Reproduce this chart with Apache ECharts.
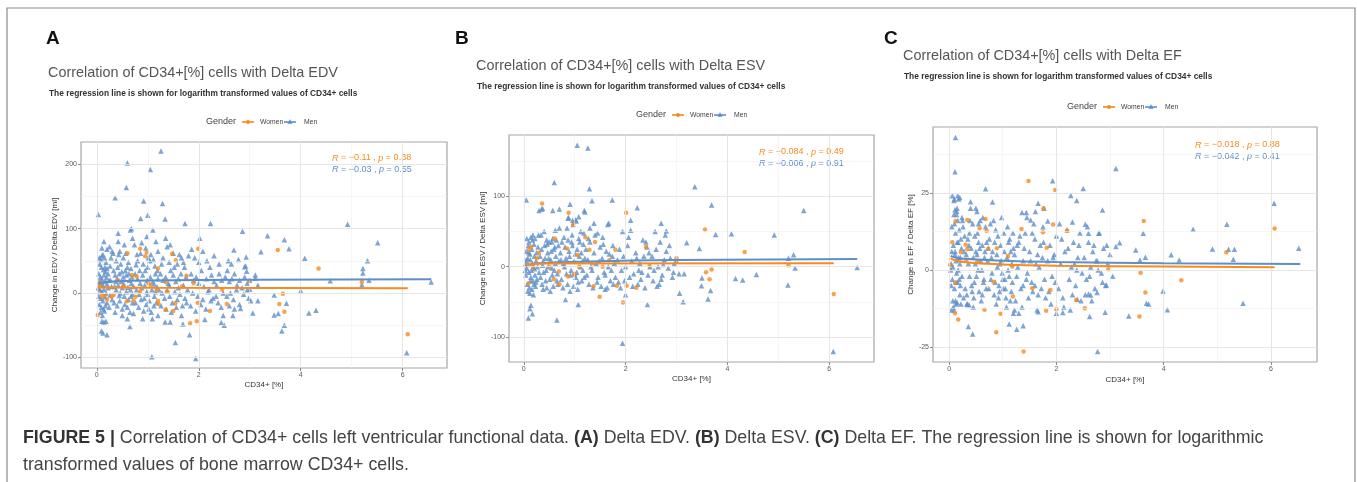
<!DOCTYPE html>
<html><head><meta charset="utf-8">
<script src="https://cdn.jsdelivr.net/npm/echarts@6/dist/echarts.min.js"></script>
<style>html,body{margin:0;padding:0;background:#fff}#c{width:1357px;height:482px}</style>
</head><body><div id="c"></div>
<script>
// ---------- tick labels ----------
const xTicks = [0, 2, 4, 6];
const xMinor = [1, 3, 5];
const yTicksEDV = [-100, 0, 100, 200];
const yMinorEDV = [-50, 50, 150];
const yTicksESV = [-100, 0, 100];
const yMinorESV = [-50, 50, 150];
const yTicksEF = [-25, 0, 25];
const yMinorEF = [-12.5, 12.5, 37.5];

const panelLetters = ['A', 'B', 'C'];
const panelTitles = ['Correlation of CD34+[%] cells with Delta EDV', 'Correlation of CD34+[%] cells with Delta ESV', 'Correlation of CD34+[%] cells with Delta EF'];
const subTitle = 'The regression line is shown for logarithm transformed values of CD34+ cells';
const yNames = ['Change in EDV / Delta EDV [ml]', 'Change in ESV / Delta ESV [ml]', 'Change in EF / Delta EF [%]'];
const xName = 'CD34+ [%]';
const groups = ['Women', 'Men'];
const statsWomen = [['\u22120.11', '0.38'], ['\u22120.084', '0.49'], ['\u22120.018', '0.88']];
const statsMen = [['\u22120.03', '0.55'], ['\u22120.006', '0.91'], ['\u22120.042', '0.41']];

// ---------- Panel A: Delta EDV ----------
const edvMen = [
[1.26,221],[0.6,202],[1.05,192],[0.58,164],[0.36,148],[0.92,143],[1.29,139],[0.03,122],[1.0,121],[0.86,116],[1.34,115],[1.73,108],[2.23,108],[4.92,107],[0.68,100],[1.1,98],[2.86,96],[0.42,93],[3.35,89],[3.68,83],[5.51,78],[3.77,69],[4.08,54],[5.31,50],[5.22,38],[5.22,31],[5.34,20],[6.56,17],[5.2,13],[4.58,19],[4.0,3],[4.16,-31],[4.3,-27],[3.48,-3],[3.48,-34],[3.56,-32],[3.72,-16],[3.68,-50],[3.63,-59],[6.08,-93],[1.94,-102],[1.08,-99],[1.54,-77],[1.82,-65],[0.65,-52],[0.2,-65],[0.09,-59],[0.12,-62],[1.34,-45],[1.44,-45],[1.69,-48],[2.12,-41],[2.44,-46],[2.5,-50],[2.67,-35],[2.48,-35],[3.06,-31],[3.02,-12],[3.16,-12],[2.82,-24],[3.22,64],[2.69,67],[2.94,34],[2.9,41],[2.93,56],[3.11,28],[3.11,23],[3.16,12],[3.0,6],
[0.05,55],[0.08,52],[0.1,58],[0.12,60],[0.15,55],[0.18,48],[0.06,45],[0.09,40],[0.13,36],[0.17,33],[0.2,38],[0.04,30],[0.07,25],[0.1,22],[0.14,28],[0.19,24],[0.22,30],[0.05,18],[0.08,15],[0.12,12],[0.16,18],[0.2,14],[0.24,20],[0.03,8],[0.06,5],[0.1,2],[0.14,6],[0.18,0],[0.22,8],[0.04,-5],[0.08,-8],[0.12,-12],[0.16,-6],[0.2,-15],[0.05,-18],[0.09,-22],[0.13,-25],[0.17,-20],[0.07,-30],[0.11,-35],[0.15,-28],[0.1,-44],[0.14,-45],[0.18,-44],[0.14,80],[0.1,70],[0.2,68],[0.25,72],[0.3,65],[0.16,40],[0.26,42],[0.28,55],[0.27,20],[0.29,10],[0.3,-10],[0.26,-3],[0.24,-22],
[0.33,35],[0.36,28],[0.4,22],[0.44,30],[0.48,18],[0.52,25],[0.56,35],[0.6,40],[0.64,20],[0.68,15],[0.35,10],[0.38,5],[0.42,12],[0.46,0],[0.5,8],[0.54,-5],[0.58,2],[0.62,-10],[0.66,5],[0.7,-2],[0.34,-15],[0.4,-20],[0.45,-12],[0.5,-25],[0.55,-18],[0.6,-22],[0.65,-30],[0.7,-15],[0.38,50],[0.43,60],[0.47,45],[0.52,55],[0.57,62],[0.62,48],[0.67,38],[0.36,-30],[0.5,-35],[0.72,-32],[0.42,80],[0.54,75],[0.7,85],[0.66,98],[0.45,65],[0.32,62],[0.58,28],[0.41,40],[0.49,33],[0.63,30],[0.69,25],[0.37,18],[0.53,14],[0.61,9],[0.67,-5],[0.44,-4],[0.6,-40],
[0.75,30],[0.8,22],[0.85,15],[0.9,28],[0.95,35],[1.0,40],[1.05,25],[1.1,18],[1.15,30],[1.2,22],[0.72,10],[0.78,5],[0.83,-2],[0.88,8],[0.93,-8],[0.98,2],[1.03,-12],[1.08,5],[1.13,-5],[1.18,10],[0.76,-15],[0.82,-22],[0.87,-10],[0.92,-28],[0.97,-18],[1.02,-25],[1.07,-30],[1.12,-20],[1.17,-15],[0.8,50],[0.86,62],[0.91,45],[0.96,70],[1.01,55],[1.06,60],[1.11,52],[1.16,80],[1.2,65],[0.88,78],[0.98,88],[1.04,50],[1.14,42],[0.74,75],[0.79,60],[1.19,35],[0.84,35],[0.94,12],[1.09,-40],[1.0,-2],[1.15,2],[0.9,-40],[1.2,-35],[0.77,44],[1.12,14],[0.99,20],
[1.25,30],[1.3,20],[1.35,25],[1.4,15],[1.45,35],[1.5,28],[1.55,18],[1.6,22],[1.65,30],[1.7,12],[1.75,25],[1.22,5],[1.28,0],[1.33,-8],[1.38,5],[1.43,-5],[1.48,-15],[1.53,2],[1.58,-10],[1.63,-2],[1.68,-20],[1.73,-8],[1.78,5],[1.26,-20],[1.36,-25],[1.46,-30],[1.56,-22],[1.66,-35],[1.76,-15],[1.3,55],[1.38,72],[1.42,48],[1.5,62],[1.58,45],[1.66,55],[1.72,40],[1.35,85],[1.44,75],[1.62,60],[1.27,45],[1.52,40],[1.8,58],[1.7,48],[1.6,8],[1.42,12],
[1.85,30],[1.9,20],[1.95,25],[2.0,15],[2.05,35],[2.1,10],[2.15,22],[2.2,5],[2.25,28],[2.3,18],[2.35,12],[2.4,30],[2.45,20],[1.88,0],[1.98,-5],[2.08,-10],[2.18,2],[2.28,-8],[2.38,-15],[2.48,0],[1.84,-20],[1.94,-28],[2.04,-18],[2.14,-25],[2.24,-12],[2.34,-5],[2.44,-22],[1.92,55],[2.0,48],[2.08,65],[2.16,50],[2.3,58],[2.4,45],[2.22,40],[2.02,85],[1.86,68],
[2.52,25],[2.56,35],[2.6,18],[2.65,22],[2.7,30],[2.75,12],[2.8,20],[2.85,8],[2.9,25],[2.95,15],[3.0,20],[2.55,-5],[2.62,0],[2.68,-10],[2.74,5],[2.8,-18],[2.88,-2],[2.95,5],[2.58,50],[2.64,45],[2.78,52],[2.92,42],[2.7,-25],[2.6,-20],[2.98,-8]
];
const edvWomen = [
[0.6,62],[0.85,69],[0.98,63],[0.95,57],[1.99,69],[1.55,51],[1.48,61],[3.55,67],[4.35,38],[0.78,26],[0.69,28],[1.76,27],[1.2,38],[0.05,10],[0.02,-34],[0.1,-5],[0.2,-10],[0.29,-6],[0.33,-3],[0.42,20],[0.52,10],[1.01,15],[1.05,12],[1.35,17],[1.38,2],[1.2,-12],[1.21,-17],[1.35,-26],[1.5,-28],[1.54,-16],[1.83,-47],[1.96,-44],[1.98,-15],[2.22,-28],[2.55,-17],[2.46,5],[2.99,19],[3.58,-17],[3.65,-1],[3.68,-29],[6.1,-64],[5.2,17],[1.9,15],[0.07,15],[0.16,-3],[0.59,-13],[0.72,-12],[0.76,-6],[0.85,2],[1.18,5],[1.67,10]
];
const edvMenFit = [[0.03,14],[0.1,16.5],[0.3,18],[1,19.5],[3,20.5],[6.56,21.5]];
const edvWomenFit = [[0.02,8.5],[1,8],[6.1,7.5]];

// ---------- Panel B: Delta ESV ----------
const esvMen = [
[1.05,173],[1.26,169],[0.6,120],[3.36,114],[1.29,111],[0.05,95],[1.34,94],[1.74,95],[0.91,89],[2.23,84],[3.69,88],[5.5,80],[0.3,80],[0.35,82],[0.37,83],[0.57,80],[0.7,82],[0.87,69],[0.96,66],[1.02,67],[1.08,71],[1.19,80],[1.2,78],[2.1,66],[2.7,62],[1.67,62],[2.8,51],[4.08,47],[3.77,46],[4.92,45],[3.45,26],[3.2,34],[5.3,17],[5.2,12],[6.55,-1],[5.33,-2],[4.16,-17],[4.3,-19],[4.57,-11],[5.19,-26],[3.5,-16],[3.49,-27],[3.67,-34],[3.62,-46],[3.06,-38],[3.13,-50],[2.43,-54],[1.07,-54],[0.82,-47],[0.65,-76],[0.09,-73],[0.14,-55],[0.12,-60],[0.17,-67],[1.94,-109],[6.08,-121],[3.15,-10],
[0.04,5],[0.06,-2],[0.08,12],[0.1,-8],[0.12,18],[0.14,-15],[0.16,25],[0.18,-20],[0.2,32],[0.22,-12],[0.05,22],[0.07,-25],[0.09,30],[0.11,-30],[0.13,10],[0.15,-5],[0.17,38],[0.19,0],[0.21,15],[0.23,-28],[0.06,40],[0.1,35],[0.14,42],[0.18,45],[0.24,8],[0.26,-18],[0.28,28],[0.3,-8],[0.04,-12],[0.08,-35],[0.12,-38],[0.16,-32],[0.2,-25],[0.25,20],[0.27,0],[0.29,45],[0.22,40],[0.19,-40],[0.03,-5],[0.05,10],[0.07,3],[0.1,20],[0.13,-20],[0.17,5],[0.21,-3],[0.24,-22],
[0.32,15],[0.35,25],[0.38,8],[0.41,30],[0.44,-5],[0.47,20],[0.5,35],[0.53,10],[0.56,-12],[0.59,25],[0.62,5],[0.65,-20],[0.68,30],[0.33,-15],[0.36,-25],[0.39,-8],[0.42,12],[0.45,-30],[0.48,0],[0.51,-18],[0.54,22],[0.57,40],[0.6,-5],[0.63,15],[0.66,-10],[0.69,8],[0.34,45],[0.4,50],[0.46,32],[0.52,-35],[0.58,-28],[0.64,38],[0.7,55],[0.37,2],[0.43,-20],[0.49,12],[0.55,-2],[0.61,28],[0.67,-25],[0.45,38],[0.62,52],[0.55,35],[0.38,-32],
[0.72,20],[0.75,35],[0.78,5],[0.81,28],[0.84,-10],[0.87,38],[0.9,15],[0.93,-5],[0.96,30],[0.99,8],[1.02,-15],[1.05,25],[1.08,40],[1.11,0],[1.14,-20],[1.17,32],[1.2,12],[0.74,-18],[0.77,-30],[0.8,0],[0.83,12],[0.86,-25],[0.89,22],[0.92,-12],[0.95,45],[0.98,-28],[1.01,18],[1.04,-8],[1.07,-22],[1.1,35],[1.13,20],[1.16,-5],[1.19,-15],[0.85,55],[0.88,70],[0.97,60],[1.03,65],[1.12,50],[1.18,48],[0.73,10],[0.91,-35],[1.06,-32],[0.79,42],[1.0,-10],[1.15,8],[0.94,35],[1.09,15],
[1.22,25],[1.26,10],[1.3,35],[1.34,-5],[1.38,20],[1.42,5],[1.46,-15],[1.5,28],[1.54,12],[1.58,-8],[1.62,22],[1.66,0],[1.7,-20],[1.74,15],[1.78,5],[1.24,-12],[1.28,-25],[1.32,0],[1.36,-30],[1.4,45],[1.44,-22],[1.48,8],[1.52,-28],[1.56,32],[1.6,-12],[1.64,-30],[1.68,18],[1.72,-5],[1.76,-25],[1.3,55],[1.38,62],[1.45,48],[1.55,42],[1.65,60],[1.75,30],[1.27,40],[1.6,-32],[1.8,-15],
[1.84,10],[1.88,25],[1.92,-5],[1.96,15],[2.0,0],[2.04,30],[2.08,-15],[2.12,8],[2.16,-10],[2.2,20],[2.24,-25],[2.28,5],[2.32,-8],[2.36,15],[2.4,35],[2.44,-12],[2.48,0],[1.86,-22],[1.9,-30],[1.98,-20],[2.06,42],[2.14,-28],[2.22,12],[2.3,-18],[2.38,-30],[2.46,20],[1.94,50],[2.1,52],[2.26,-5],[2.42,28],[2.0,-40],[2.34,38],
[2.52,15],[2.56,-5],[2.6,25],[2.64,0],[2.68,35],[2.72,-12],[2.76,10],[2.8,22],[2.84,-2],[2.88,12],[2.92,-15],[2.96,5],[3.0,8],[2.54,-20],[2.62,-28],[2.7,-18],[2.78,45],[2.86,30],[2.94,-8],[2.58,50],[2.66,-25],[2.74,3],[3.05,-10]
];
const esvWomen = [
[0.36,90],[0.88,77],[2.01,77],[0.97,60],[3.56,53],[0.61,40],[1.21,42],[1.4,35],[0.85,26],[4.34,21],[1.8,24],[2.4,28],[0.14,28],[0.1,24],[0.3,20],[0.26,12],[0.09,-24],[0.69,-7],[0.59,-18],[0.7,-25],[0.87,-14],[0.99,-11],[1.37,-28],[1.49,-43],[1.83,-27],[1.95,-51],[2.02,-27],[2.21,-30],[2.47,1],[3.0,12],[3.58,-8],[3.69,-4],[3.65,-18],[5.2,2],[6.09,-39],[1.34,5],[1.55,0],[1.68,9],[1.06,17],[1.09,0],[0.5,0],[0.18,0],[1.29,24]
];
const esvMenFit = [[0.03,1],[0.1,3],[0.3,5],[1,7],[3,9.5],[6.55,11]];
const esvWomenFit = [[0.03,2],[0.1,3.5],[0.5,4.5],[6.09,5]];

// ---------- Panel C: Delta EF ----------
const efMen = [
[0.12,42.9],[0.11,31.8],[3.11,32.9],[1.93,28.9],[2.5,26.4],[0.68,26.3],[2.27,24.1],[2.38,22.5],[0.81,22],[0.4,22.1],[6.06,21.6],[0.5,20],[0.52,18.9],[0.16,24],[0.2,23.5],[0.09,22.5],[0.11,19.5],[0.14,18],[1.66,21.6],[1.61,18.9],[1.77,20],[2.86,19.4],[1.36,18.6],[1.44,18.6],[1.52,16.2],[1.84,15.9],[2.3,15.5],[2.54,14.8],[5.18,14.8],[4.55,13.2],[6.52,7],[4.91,6.8],[5.21,6.7],[5.32,6.7],[5.3,3.5],[4.14,4.9],[4.29,3.2],[3.48,6.5],[3.56,3.2],[3.66,4.1],[3.18,8.8],[3.11,7.6],[3.62,11.9],[2.6,11.9],[2.79,11.9],[3.99,-6.8],[4.07,-12.9],[3.35,-14.9],[3.68,-10.8],[3.72,-11],[5.48,-10.8],[2.91,-13.7],[2.93,-4.9],[2.6,-7.8],[2.64,-8.1],[2.76,-7.3],[2.62,-15.1],[2.77,-26.4],[2.39,-9.5],[2.12,-13.8],[1.66,-13.5],[1.26,-19.2],[1.38,-18.1],[1.12,-17.5],[1.22,-13],[1.2,-14],[0.36,-18.3],[0.44,-20.7],[0.33,-11],[0.37,-11.3],[0.15,-10.5],[0.04,-13],
[0.04,2],[0.06,-3],[0.08,8],[0.1,-6],[0.12,12],[0.14,-1],[0.16,16],[0.18,4],[0.2,-8],[0.22,10],[0.05,14],[0.07,-10],[0.09,18],[0.11,5],[0.13,-4],[0.15,20],[0.17,0],[0.19,13],[0.21,-5],[0.23,7],[0.06,24],[0.1,23],[0.14,19],[0.18,23],[0.24,-2],[0.26,14],[0.28,6],[0.3,-6],[0.04,-5],[0.08,-12],[0.12,-10],[0.16,-4],[0.2,2],[0.25,16],[0.27,-9],[0.29,11],[0.09,-13],[0.13,-11],[0.11,6],[0.15,9],[0.22,-11],[0.19,-3],[0.03,0],[0.05,6],[0.07,1],[0.1,15],[0.13,3],[0.17,9],[0.21,4],[0.24,17],
[0.32,5],[0.35,10],[0.38,-2],[0.41,7],[0.44,15],[0.47,-4],[0.5,6],[0.53,12],[0.56,-7],[0.59,3],[0.62,8],[0.65,-3],[0.68,14],[0.33,-8],[0.36,2],[0.39,16],[0.42,-5],[0.45,4],[0.48,11],[0.51,-2],[0.54,0],[0.57,7],[0.6,-10],[0.63,17],[0.66,4],[0.69,-6],[0.34,-11],[0.4,20],[0.46,-9],[0.52,5],[0.58,16],[0.64,-4],[0.7,9],[0.37,8],[0.43,-7],[0.49,2],[0.55,15],[0.61,0],[0.67,6],[0.45,-12],[0.62,-8],[0.55,9],[0.38,12],
[0.72,3],[0.75,10],[0.78,-3],[0.81,6],[0.84,-8],[0.87,13],[0.9,1],[0.93,-5],[0.96,8],[0.99,-1],[1.02,12],[1.05,-6],[1.08,4],[1.11,9],[1.14,-10],[1.17,2],[1.2,7],[0.74,-6],[0.77,15],[0.8,-1],[0.83,16],[0.86,-4],[0.89,5],[0.92,-9],[0.95,2],[0.98,17],[1.01,-6],[1.04,-3],[1.07,-12],[1.1,0],[1.13,10],[1.16,-7],[1.19,12],[0.85,9],[0.88,-11],[0.97,3],[1.03,6],[1.12,-2],[1.18,-4],[0.73,7],[0.91,11],[1.06,-9],[0.79,4],[1.0,-3],[1.15,6],[0.94,-7],[1.09,14],
[1.22,5],[1.26,-2],[1.3,9],[1.34,-6],[1.38,3],[1.42,12],[1.46,-1],[1.5,6],[1.54,-4],[1.58,15],[1.62,2],[1.66,-8],[1.7,8],[1.74,4],[1.78,-3],[1.24,-10],[1.28,1],[1.32,11],[1.36,-12],[1.4,7],[1.44,-3],[1.48,-9],[1.52,3],[1.56,-7],[1.6,10],[1.64,-13],[1.68,1],[1.72,-6],[1.76,9],[1.3,-14],[1.38,-5],[1.45,17],[1.55,12],[1.65,5],[1.75,14],[1.27,8],[1.6,-5],[1.8,-9],
[1.84,3],[1.88,8],[1.92,-2],[1.96,5],[2.0,11],[2.04,-6],[2.08,2],[2.12,-9],[2.16,6],[2.2,13],[2.24,-3],[2.28,1],[2.32,9],[2.36,-5],[2.4,4],[2.44,12],[2.48,-1],[1.86,-7],[1.9,-11],[1.98,-4],[2.06,15],[2.14,-12],[2.22,7],[2.3,-8],[2.38,0],[2.46,-10],[1.94,4],[2.1,10],[2.26,-13],[2.42,8],[2.0,-14],[2.34,2],
[2.52,4],[2.56,-3],[2.6,9],[2.64,1],[2.68,6],[2.72,-6],[2.76,3],[2.8,12],[2.84,-1],[2.88,7],[2.92,-5],[2.96,2],[3.0,5],[2.54,-8],[2.62,-2],[2.7,8],[2.78,0],[2.86,-4],[2.94,8],[2.58,14],[2.66,-10],[2.74,3],[3.05,-2]
];
const efWomen = [
[1.48,28.8],[1.98,25.9],[1.76,20],[0.12,15.9],[0.34,16.2],[0.68,16.5],[0.57,13.5],[0.7,12.7],[1.75,12.2],[1.94,14.7],[1.35,13.3],[2.2,12.7],[3.63,15.9],[6.07,13.4],[5.17,5.7],[0.73,6.9],[0.89,7],[0.31,8.2],[0.34,6.7],[0.06,9],[0.22,5.7],[0.02,1.6],[0.53,2.7],[1.1,4.5],[1.82,7.2],[2.97,0.2],[3.57,-0.9],[4.33,-3.3],[3.66,-7.3],[3.55,-15.1],[2.53,-12.4],[2.37,-9.7],[2.0,-12.7],[1.81,-13.2],[1.89,-6.5],[1.55,-5.9],[1.19,-8.6],[0.96,-14.2],[0.88,-20.2],[1.39,-26.4],[0.83,-3.8],[0.66,-12.9],[0.17,-16],[0.11,-14],[0.11,-4.1],[1.18,1.1],[0.32,3.2]
];
const efMenFit = [[0.03,4.6],[0.1,4.1],[0.3,3.6],[1,3.0],[2,2.6],[4,2.2],[6.55,1.9]];
const efWomenFit = [[0.03,3.9],[0.1,3.2],[0.3,2.5],[1,1.8],[2,1.4],[4,1.1],[6.07,0.9]];

// ---------- styling / layout ----------
const ORANGE = '#F68B1F', BLUE = '#5E8FC8';
const FONT = '"Liberation Sans", Arial, Helvetica, sans-serif';
const layout = [
  {grid:{left:81, top:142, width:366, height:226}, xr:[-0.31,6.87], yr:[-116.6,234.8], letter:[46,40], title:[48,73.5], sub:[49,93.5], legend:[206,122], stat:[332,158], xGap:13, yGap:21},
  {grid:{left:509, top:135, width:365, height:227}, xr:[-0.29,6.88], yr:[-135.8,187.6], letter:[455,40], title:[476,66.5], sub:[477,86.5], legend:[636,115], stat:[759,152], xGap:13, yGap:22},
  {grid:{left:933, top:127, width:384, height:235}, xr:[-0.30,6.86], yr:[-29.8,46.3], letter:[884,40], title:[903,56.5], sub:[904,77], legend:[1067,107], stat:[1195,145], xGap:14, yGap:17}
];
const dataSets = [
  {men:edvMen, women:edvWomen, menFit:edvMenFit, womenFit:edvWomenFit, yT:yTicksEDV, yM:yMinorEDV},
  {men:esvMen, women:esvWomen, menFit:esvMenFit, womenFit:esvWomenFit, yT:yTicksESV, yM:yMinorESV},
  {men:efMen, women:efWomen, menFit:efMenFit, womenFit:efWomenFit, yT:yTicksEF, yM:yMinorEF}
];

const grids = [], xAxes = [], yAxes = [], series = [], graphics = [];
const MAJOR = {color:'#E3E3E3', width:0.9, type:'solid'};
const MINOR = {color:'#F0F0F0', width:0.6, type:'solid'};

layout.forEach((L, i) => {
  const D = dataSets[i];
  grids.push(Object.assign({show:true, borderColor:'#A6A6A6', borderWidth:1.2, backgroundColor:'rgba(0,0,0,0)'}, L.grid));
  xAxes.push({type:'value', gridIndex:i, min:L.xr[0], max:L.xr[1],
    axisLine:{show:false, onZero:false}, splitLine:{show:false},
    axisTick:{show:true, customValues:xTicks, length:3, lineStyle:{color:'#8A8A8A', width:1}},
    axisLabel:{customValues:xTicks, fontSize:7, color:'#5A5A5A', margin:4, fontFamily:FONT},
    name:xName, nameLocation:'middle', nameGap:L.xGap, nameTextStyle:{fontSize:8, color:'#333', fontFamily:FONT}});
  yAxes.push({type:'value', gridIndex:i, min:L.yr[0], max:L.yr[1],
    axisLine:{show:false, onZero:false}, splitLine:{show:false},
    axisTick:{show:true, customValues:D.yT, length:3, lineStyle:{color:'#8A8A8A', width:1}},
    axisLabel:{customValues:D.yT, fontSize:7, color:'#5A5A5A', margin:4, fontFamily:FONT},
    name:yNames[i], nameLocation:'middle', nameGap:L.yGap, nameTextStyle:{fontSize:8, color:'#333', fontFamily:FONT}});
  const ml = [];
  xMinor.forEach(v => ml.push({xAxis:v, lineStyle:MINOR}));
  D.yM.forEach(v => ml.push({yAxis:v, lineStyle:MINOR}));
  xTicks.forEach(v => ml.push({xAxis:v, lineStyle:MAJOR}));
  D.yT.forEach(v => ml.push({yAxis:v, lineStyle:MAJOR}));
  series.push({type:'scatter', xAxisIndex:i, yAxisIndex:i, data:[], z:1, silent:true,
    markLine:{silent:true, symbol:['none','none'], label:{show:false}, animation:false, emphasis:{disabled:true}, data:ml}});
  series.push({name:groups[1], type:'scatter', xAxisIndex:i, yAxisIndex:i, data:D.men, symbol:'triangle', symbolSize:5.5, itemStyle:{color:BLUE}, z:3, silent:true});
  series.push({name:groups[0], type:'scatter', xAxisIndex:i, yAxisIndex:i, data:D.women, symbol:'circle', symbolSize:4.5, itemStyle:{color:ORANGE}, z:4, silent:true});
  series.push({type:'line', xAxisIndex:i, yAxisIndex:i, data:D.menFit, smooth:true, showSymbol:false, lineStyle:{color:BLUE, width:2}, z:5, silent:true});
  series.push({type:'line', xAxisIndex:i, yAxisIndex:i, data:D.womenFit, smooth:true, showSymbol:false, lineStyle:{color:ORANGE, width:2}, z:5, silent:true});

  // panel letter, title, subtitle
  graphics.push({type:'text', left:L.letter[0], top:L.letter[1]-11, style:{text:panelLetters[i], font:'bold 19px '+FONT, fill:'#111'}});
  graphics.push({type:'text', x:L.title[0], y:L.title[1], style:{text:panelTitles[i], font:'14.4px '+FONT, fill:'#555', verticalAlign:'middle'}});
  graphics.push({type:'text', x:L.sub[0], y:L.sub[1], style:{text:subTitle, font:'bold 8.4px '+FONT, fill:'#333', verticalAlign:'middle'}});
  // legend
  const [gx, gy] = L.legend;
  graphics.push({type:'text', x:gx, y:gy, style:{text:'Gender', font:'9px '+FONT, fill:'#444', verticalAlign:'middle'}});
  graphics.push({type:'line', shape:{x1:gx+36, y1:gy, x2:gx+48, y2:gy}, style:{stroke:ORANGE, lineWidth:1.6}});
  graphics.push({type:'circle', shape:{cx:gx+42, cy:gy, r:2}, style:{fill:ORANGE}});
  graphics.push({type:'text', x:gx+54, y:gy, style:{text:groups[0], font:'6.8px '+FONT, fill:'#444', verticalAlign:'middle'}});
  graphics.push({type:'line', shape:{x1:gx+78, y1:gy, x2:gx+90, y2:gy}, style:{stroke:BLUE, lineWidth:1.6}});
  graphics.push({type:'polygon', shape:{points:[[gx+84,gy-2.8],[gx+86.6,gy+1.8],[gx+81.4,gy+1.8]]}, style:{fill:BLUE}});
  graphics.push({type:'text', x:gx+98, y:gy, style:{text:groups[1], font:'6.8px '+FONT, fill:'#444', verticalAlign:'middle'}});
  // stats
  const rich = {i:{fontStyle:'italic', fontSize:9, fontFamily:FONT}, n:{fontSize:9, fontFamily:FONT}};
  const mk = s => '{i|R}{n| = ' + s[0] + ' , }{i|p}{n| = ' + s[1] + '}';
  graphics.push({type:'text', x:L.stat[0], y:L.stat[1], style:{text:mk(statsWomen[i]), rich:JSON.parse(JSON.stringify(rich)), fill:ORANGE, font:'9px '+FONT, verticalAlign:'middle'}});
  graphics.push({type:'text', x:L.stat[0], y:L.stat[1]+11.5, style:{text:mk(statsMen[i]), rich:JSON.parse(JSON.stringify(rich)), fill:BLUE, font:'9px '+FONT, verticalAlign:'middle'}});
});

// outer frame
graphics.push({type:'rect', shape:{x:7, y:8, width:1348, height:490}, style:{fill:'none', stroke:'#8C8C8C', lineWidth:1.2}, z:-1});
// caption
const CAP = 17.8;
const captionRich = {b:{fontWeight:'bold', fontSize:CAP, fontFamily:FONT, fill:'#333'}, t:{fontSize:CAP, fontFamily:FONT, fill:'#444'}};
graphics.push({type:'text', x:23, y:438, style:{
  text:'{b|FIGURE 5 |}{t| Correlation of CD34+ cells left ventricular functional data. }{b|(A)}{t| Delta EDV. }{b|(B)}{t| Delta ESV. }{b|(C)}{t| Delta EF. The regression line is shown for logarithmic}',
  rich:captionRich, font:CAP+'px '+FONT, verticalAlign:'middle'}});
graphics.push({type:'text', x:23, y:465, style:{text:'transformed values of bone marrow CD34+ cells.', font:CAP+'px '+FONT, fill:'#444', verticalAlign:'middle'}});

const chart = echarts.init(document.getElementById('c'), null, {renderer:'canvas'});
chart.setOption({animation:false, backgroundColor:'#fff', grid:grids, xAxis:xAxes, yAxis:yAxes, series:series, graphic:graphics});
</script></body></html>
